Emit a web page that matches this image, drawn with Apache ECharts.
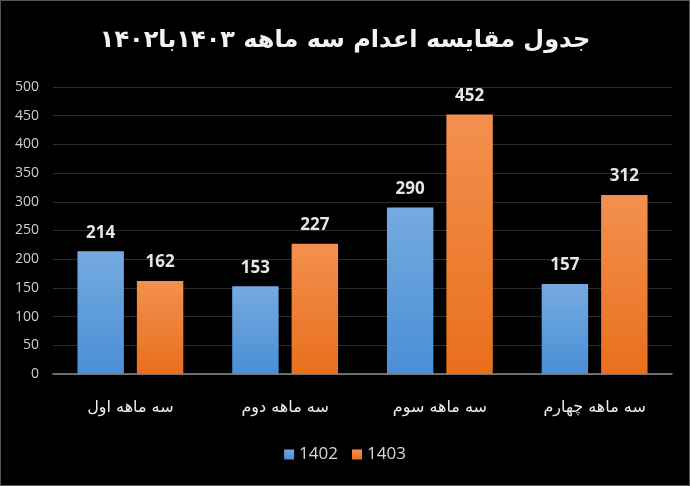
<!DOCTYPE html>
<html>
<head>
<meta charset="utf-8">
<script src="https://cdn.jsdelivr.net/npm/echarts@6/dist/echarts.min.js"></script>
<style>
  html, body { margin: 0; padding: 0; background: #000; }
  #main { width: 688px; height: 484px; border: 1px solid #555; }
</style>
</head>
<body>
<div id="main"></div>
<script>
var chartDom = document.getElementById('main');
var myChart = echarts.init(chartDom);

// data
var quarters = ['سه ماهه اول', 'سه ماهه دوم', 'سه ماهه سوم', 'سه ماهه چهارم'];
var values1402 = [214, 153, 290, 157];
var values1403 = [162, 227, 452, 312];
var seriesNames = ['1402', '1403'];

function grad(top, bottom) {
    return new echarts.graphic.LinearGradient(0, 0, 0, 1, [
        { offset: 0, color: top },
        { offset: 1, color: bottom }
    ]);
}

var labelStyle = {
    show: true,
    position: 'top',
    distance: 10,
    color: '#e6e6e6',
    fontSize: 17,
    fontWeight: 'bold',
    fontFamily: 'Open Sans'
};

var option = {
    backgroundColor: '#000',
    title: {
        text: 'جدول مقایسه اعدام سه ماهه ۱۴۰۳با۱۴۰۲',
        left: 'center',
        top: 23,
        textStyle: {
            color: '#f2f2f2',
            fontSize: 24,
            fontWeight: 'bold',
            fontFamily: 'DejaVu Sans'
        }
    },
    legend: {
        bottom: 17,
        left: 'center',
        itemWidth: 10,
        itemHeight: 10,
        itemGap: 14,
        icon: 'rect',
        textStyle: { color: '#d8d8d8', fontSize: 17, fontFamily: 'Open Sans' },
        data: seriesNames
    },
    grid: { left: 52, right: 17, top: 86, bottom: 111 },
    xAxis: {
        type: 'category',
        data: quarters,
        axisLine: { lineStyle: { color: '#8a8a8a', width: 1.5 } },
        axisTick: { show: false },
        axisLabel: {
            interval: 0,
            color: '#ececec',
            fontSize: 16,
            margin: 26,
            fontFamily: 'DejaVu Sans'
        }
    },
    yAxis: {
        type: 'value',
        min: 0,
        max: 500,
        interval: 50,
        axisLine: { show: false },
        axisTick: { show: false },
        axisLabel: {
            color: '#cfcfcf',
            fontSize: 14,
            margin: 14,
            fontFamily: 'Open Sans'
        },
        splitLine: { lineStyle: { color: '#2c2c2c', width: 1 } }
    },
    series: [
        {
            name: seriesNames[0],
            type: 'bar',
            barWidth: '30%',
            barGap: '28%',
            data: values1402,
            itemStyle: { color: grad('#75aae0', '#4a8fd6') },
            label: labelStyle
        },
        {
            name: seriesNames[1],
            type: 'bar',
            barWidth: '30%',
            data: values1403,
            itemStyle: { color: grad('#f3904f', '#e96f1c') },
            label: labelStyle
        }
    ]
};

option && myChart.setOption(option);
</script>
</body>
</html>
